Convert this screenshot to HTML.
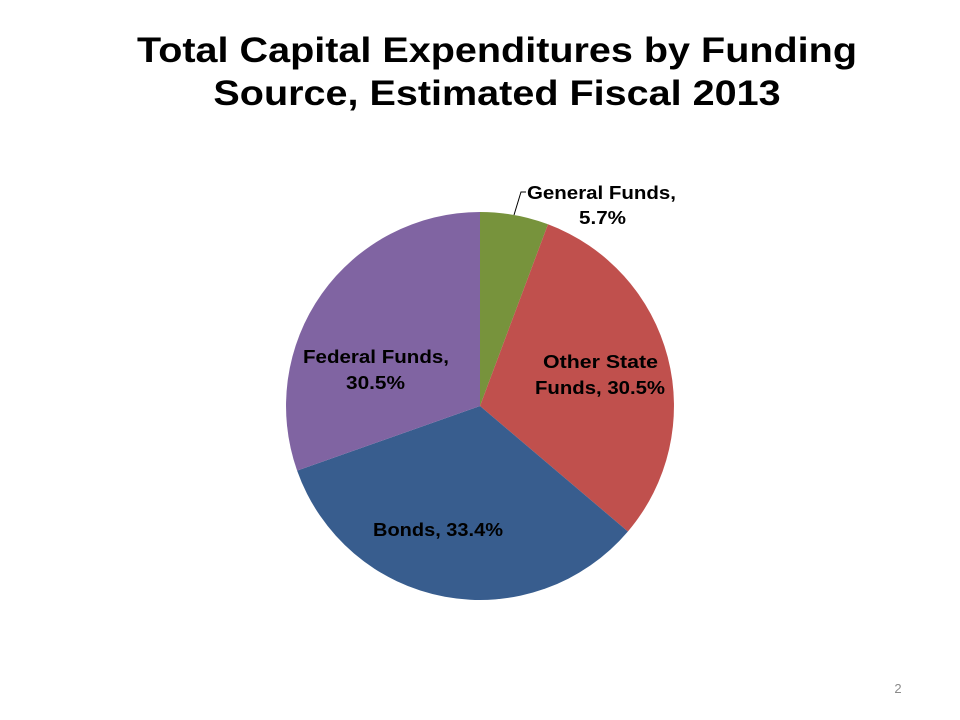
<!DOCTYPE html>
<html><head><style>
html,body{margin:0;padding:0;background:#fff;}
body{width:960px;height:720px;position:relative;overflow:hidden;font-family:"Liberation Sans",sans-serif;}
.t{position:absolute;left:0;width:994px;top:29px;text-align:center;font-weight:900;font-size:35px;line-height:43px;color:#000;transform:scaleX(1.13);transform-origin:497px 0;}
</style></head><body>
<div class="t">Total Capital Expenditures by Funding<br>Source, Estimated Fiscal 2013</div>
<svg width="960" height="720" style="position:absolute;left:0;top:0" font-family="Liberation Sans, sans-serif" font-weight="bold" font-size="18">
<path d="M480,406 L480,212 A194,194 0 0 1 548,224.3 Z" fill="#77933C"/>
<path d="M480,406 L548,224.3 A194,194 0 0 1 627.9,531.5 Z" fill="#C0504D"/>
<path d="M480,406 L627.9,531.5 A194,194 0 0 1 297.1,470.6 Z" fill="#385D8E"/>
<path d="M480,406 L297.1,470.6 A194,194 0 0 1 480,212 Z" fill="#8064A2"/>
<polyline points="514,215 521,192 526,192" fill="none" stroke="#000" stroke-width="1"/>
<text x="527" y="199" textLength="149" lengthAdjust="spacingAndGlyphs">General Funds,</text>
<text x="579" y="224" textLength="47" lengthAdjust="spacingAndGlyphs">5.7%</text>
<text x="543" y="368" textLength="115" lengthAdjust="spacingAndGlyphs">Other State</text>
<text x="535" y="394" textLength="130" lengthAdjust="spacingAndGlyphs">Funds, 30.5%</text>
<text x="303" y="363" textLength="146" lengthAdjust="spacingAndGlyphs">Federal Funds,</text>
<text x="346" y="389" textLength="59" lengthAdjust="spacingAndGlyphs">30.5%</text>
<text x="373" y="536" textLength="130" lengthAdjust="spacingAndGlyphs">Bonds, 33.4%</text>
<text x="898" y="693" text-anchor="middle" font-weight="normal" font-size="13" fill="#8a8a8a">2</text>
</svg>
</body></html>
